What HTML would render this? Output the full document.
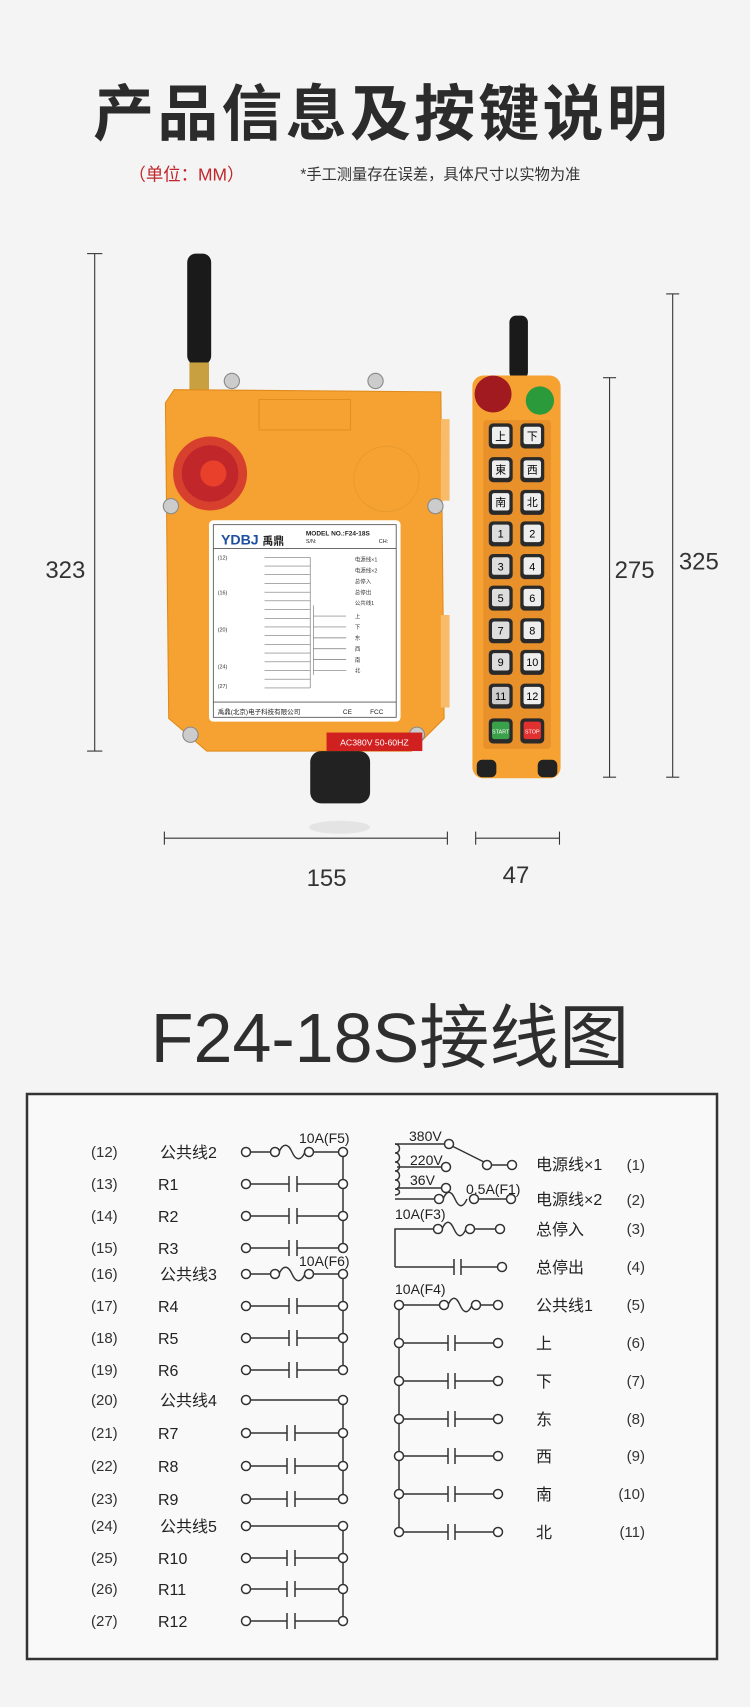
<!DOCTYPE html>
<html><head><meta charset="utf-8"><style>
html,body{margin:0;padding:0;background:#f4f4f4;}
svg{display:block}
text{font-family:"Liberation Sans","Noto Sans CJK SC",sans-serif;}
</style></head><body>
<svg width="750" height="1707" viewBox="0 0 750 1707" xmlns="http://www.w3.org/2000/svg">
<rect width="750" height="1707" fill="#f4f4f4"/>
<g transform="scale(1.0885)">
<text x="351" y="124" text-anchor="middle" font-size="56" font-weight="bold" fill="#2b2b2b" letter-spacing="3">产品信息及按键说明</text>
<text x="118" y="166" font-size="16" fill="#c0262a">（单位：MM）</text>
<text x="276" y="165" font-size="14" fill="#333">*手工测量存在误差，具体尺寸以实物为准</text>

<!-- big remote -->
<rect x="172" y="233" width="22" height="102" rx="8" fill="#1a1a1a"/>
<rect x="174" y="333" width="18" height="27" fill="#c9a040"/>
<polygon points="160,358 405,360 408,660 378,690 190,690 155,660 152,370" fill="#f6a232" stroke="#e08a1a"/>
<rect x="405" y="385" width="8" height="75" fill="#f7bb6a"/>
<rect x="405" y="565" width="8" height="85" fill="#f7bb6a"/>
<rect x="238" y="367" width="84" height="28" fill="none" stroke="#e58e20"/>
<circle cx="355" cy="440" r="30" fill="none" stroke="#e89a30"/>
<circle cx="193" cy="435" r="34" fill="#d8402e"/>
<circle cx="193" cy="435" r="26" fill="#c0262a"/>
<circle cx="196" cy="435" r="12" fill="#e8402a"/>
<g fill="#ccc" stroke="#888"><circle cx="213" cy="350" r="7"/><circle cx="345" cy="350" r="7"/><circle cx="157" cy="465" r="7"/><circle cx="400" cy="465" r="7"/><circle cx="175" cy="675" r="7"/><circle cx="383" cy="675" r="7"/></g>
<rect x="192" y="478" width="176" height="185" rx="4" fill="#fff"/>
<rect x="196" y="482" width="168" height="177" fill="none" stroke="#555" stroke-width="0.8"/>
<line x1="196" y1="504" x2="364" y2="504" stroke="#555" stroke-width="0.8"/>
<line x1="196" y1="645" x2="364" y2="645" stroke="#555" stroke-width="0.8"/>
<text x="203" y="500" font-size="13" font-weight="bold" fill="#1f4fa0">YDBJ</text>
<text x="241" y="500" font-size="10" font-weight="bold" fill="#222">禹鼎</text>
<text x="281" y="492" font-size="6" font-weight="bold" fill="#222">MODEL NO.:F24-18S</text>
<text x="281" y="499" font-size="5" fill="#222">S/N:</text><text x="348" y="499" font-size="5" fill="#222">CH:</text>
<g stroke="#777" stroke-width="0.6">
<line x1="243" y1="512" x2="285" y2="512"/><line x1="243" y1="520" x2="285" y2="520"/><line x1="243" y1="528" x2="285" y2="528"/><line x1="243" y1="536" x2="285" y2="536"/><line x1="243" y1="544" x2="285" y2="544"/><line x1="243" y1="552" x2="285" y2="552"/><line x1="243" y1="560" x2="285" y2="560"/><line x1="243" y1="568" x2="285" y2="568"/><line x1="243" y1="576" x2="285" y2="576"/><line x1="243" y1="584" x2="285" y2="584"/><line x1="243" y1="592" x2="285" y2="592"/><line x1="243" y1="600" x2="285" y2="600"/><line x1="243" y1="608" x2="285" y2="608"/><line x1="243" y1="616" x2="285" y2="616"/><line x1="243" y1="624" x2="285" y2="624"/><line x1="243" y1="632" x2="285" y2="632"/>
<line x1="285" y1="512" x2="285" y2="632"/><line x1="288" y1="556" x2="288" y2="620"/>
<line x1="288" y1="566" x2="318" y2="566"/><line x1="288" y1="576" x2="318" y2="576"/><line x1="288" y1="586" x2="318" y2="586"/><line x1="288" y1="596" x2="318" y2="596"/><line x1="288" y1="606" x2="318" y2="606"/><line x1="288" y1="616" x2="318" y2="616"/>
</g>
<g font-size="5" fill="#333"><text x="200" y="514">(12)</text><text x="200" y="546">(16)</text><text x="200" y="580">(20)</text><text x="200" y="614">(24)</text><text x="200" y="632">(27)</text>
<text x="326" y="516">电源线×1</text><text x="326" y="526">电源线×2</text><text x="326" y="536">总停入</text><text x="326" y="546">总停出</text><text x="326" y="556">公共线1</text><text x="326" y="568">上</text><text x="326" y="578">下</text><text x="326" y="588">东</text><text x="326" y="598">西</text><text x="326" y="608">南</text><text x="326" y="618">北</text></g>
<text x="200" y="656" font-size="6" fill="#222">禹鼎(北京)电子科技有限公司</text>
<text x="315" y="656" font-size="6" fill="#222">CE</text><text x="340" y="656" font-size="6" fill="#222">FCC</text>
<rect x="300" y="673" width="88" height="17" fill="#d02020"/>
<text x="344" y="685" text-anchor="middle" font-size="8" fill="#fff">AC380V 50-60HZ</text>
<rect x="285" y="690" width="55" height="48" rx="10" fill="#222"/>
<ellipse cx="312" cy="760" rx="28" ry="6" fill="#e4e4e4"/>

<!-- small remote -->
<rect x="468" y="290" width="17" height="58" rx="6" fill="#1a1a1a"/>
<rect x="434" y="345" width="81" height="370" rx="10" fill="#f6a232"/>
<circle cx="453" cy="362" r="17" fill="#a01a20"/>
<circle cx="496" cy="368" r="13" fill="#2a9a3a"/>
<rect x="444" y="386" width="62" height="302" rx="3" fill="#e8902a"/>
<g font-size="10" text-anchor="middle">
<rect x="449" y="389" width="22" height="23" rx="4" fill="#2a2a2a"/><rect x="452" y="392" width="16" height="16" rx="2" fill="#eee"/><text x="460" y="404">上</text>
<rect x="478" y="389" width="22" height="23" rx="4" fill="#2a2a2a"/><rect x="481" y="392" width="16" height="16" rx="2" fill="#eee"/><text x="489" y="404">下</text>
<rect x="449" y="420" width="22" height="23" rx="4" fill="#2a2a2a"/><rect x="452" y="423" width="16" height="16" rx="2" fill="#eee"/><text x="460" y="435">東</text>
<rect x="478" y="420" width="22" height="23" rx="4" fill="#2a2a2a"/><rect x="481" y="423" width="16" height="16" rx="2" fill="#eee"/><text x="489" y="435">西</text>
<rect x="449" y="450" width="22" height="23" rx="4" fill="#2a2a2a"/><rect x="452" y="453" width="16" height="16" rx="2" fill="#eee"/><text x="460" y="465">南</text>
<rect x="478" y="450" width="22" height="23" rx="4" fill="#2a2a2a"/><rect x="481" y="453" width="16" height="16" rx="2" fill="#eee"/><text x="489" y="465">北</text>
<rect x="449" y="479" width="22" height="23" rx="4" fill="#2a2a2a"/><rect x="452" y="482" width="16" height="16" rx="2" fill="#ddd"/><text x="460" y="494">1</text>
<rect x="478" y="479" width="22" height="23" rx="4" fill="#2a2a2a"/><rect x="481" y="482" width="16" height="16" rx="2" fill="#eee"/><text x="489" y="494">2</text>
<rect x="449" y="509" width="22" height="23" rx="4" fill="#2a2a2a"/><rect x="452" y="512" width="16" height="16" rx="2" fill="#ddd"/><text x="460" y="524">3</text>
<rect x="478" y="509" width="22" height="23" rx="4" fill="#2a2a2a"/><rect x="481" y="512" width="16" height="16" rx="2" fill="#eee"/><text x="489" y="524">4</text>
<rect x="449" y="538" width="22" height="23" rx="4" fill="#2a2a2a"/><rect x="452" y="541" width="16" height="16" rx="2" fill="#ddd"/><text x="460" y="553">5</text>
<rect x="478" y="538" width="22" height="23" rx="4" fill="#2a2a2a"/><rect x="481" y="541" width="16" height="16" rx="2" fill="#eee"/><text x="489" y="553">6</text>
<rect x="449" y="568" width="22" height="23" rx="4" fill="#2a2a2a"/><rect x="452" y="571" width="16" height="16" rx="2" fill="#ddd"/><text x="460" y="583">7</text>
<rect x="478" y="568" width="22" height="23" rx="4" fill="#2a2a2a"/><rect x="481" y="571" width="16" height="16" rx="2" fill="#eee"/><text x="489" y="583">8</text>
<rect x="449" y="597" width="22" height="23" rx="4" fill="#2a2a2a"/><rect x="452" y="600" width="16" height="16" rx="2" fill="#ddd"/><text x="460" y="612">9</text>
<rect x="478" y="597" width="22" height="23" rx="4" fill="#2a2a2a"/><rect x="481" y="600" width="16" height="16" rx="2" fill="#eee"/><text x="489" y="612">10</text>
<rect x="449" y="628" width="22" height="23" rx="4" fill="#2a2a2a"/><rect x="452" y="631" width="16" height="16" rx="2" fill="#ccc"/><text x="460" y="643">11</text>
<rect x="478" y="628" width="22" height="23" rx="4" fill="#2a2a2a"/><rect x="481" y="631" width="16" height="16" rx="2" fill="#eee"/><text x="489" y="643">12</text>
<rect x="449" y="660" width="22" height="23" rx="4" fill="#2a2a2a"/><rect x="452" y="663" width="16" height="16" rx="2" fill="#3aa04a"/><text x="460" y="674" font-size="5" fill="#fff">START</text>
<rect x="478" y="660" width="22" height="23" rx="4" fill="#2a2a2a"/><rect x="481" y="663" width="16" height="16" rx="2" fill="#e03030"/><text x="489" y="674" font-size="5" fill="#fff">STOP</text>
</g>
<rect x="438" y="698" width="18" height="16" rx="5" fill="#222"/><rect x="494" y="698" width="18" height="16" rx="5" fill="#222"/>

<!-- dimensions -->
<g stroke="#333" stroke-width="1">
<line x1="87" y1="233" x2="87" y2="690"/><line x1="80" y1="233" x2="94" y2="233"/><line x1="80" y1="690" x2="94" y2="690"/>
<line x1="151" y1="770" x2="411" y2="770"/><line x1="151" y1="764" x2="151" y2="776"/><line x1="411" y1="764" x2="411" y2="776"/>
<line x1="437" y1="770" x2="514" y2="770"/><line x1="437" y1="764" x2="437" y2="776"/><line x1="514" y1="764" x2="514" y2="776"/>
<line x1="560" y1="347" x2="560" y2="714"/><line x1="554" y1="347" x2="566" y2="347"/><line x1="554" y1="714" x2="566" y2="714"/>
<line x1="618" y1="270" x2="618" y2="714"/><line x1="612" y1="270" x2="624" y2="270"/><line x1="612" y1="714" x2="624" y2="714"/>
</g>
<g font-size="22" fill="#333" text-anchor="middle">
<text x="60" y="531">323</text><text x="300" y="814">155</text><text x="474" y="811">47</text><text x="583" y="531">275</text><text x="642" y="523">325</text>
</g>
</g>

<!-- diagram section -->
<text x="390" y="1062" text-anchor="middle" font-size="70" fill="#2e2e2e">F24-18S接线图</text>
<rect x="27" y="1094" width="690" height="565" fill="#f9f9f9" stroke="#333" stroke-width="2.5"/>

<g stroke="#333" stroke-width="1.5" fill="none">
<line x1="343" y1="1152" x2="343" y2="1248"/><line x1="343" y1="1274" x2="343" y2="1370"/><line x1="343" y1="1400" x2="343" y2="1499"/><line x1="343" y1="1526" x2="343" y2="1621"/>
<path d="M250 1152H271M279 1152c4 -9 9 -9 13 0s9 9 13 0M313 1152H339"/>
<path d="M250 1274H271M279 1274c4 -9 9 -9 13 0s9 9 13 0M313 1274H339"/>
<path d="M250 1400H339M250 1526H339"/>
<path d="M250 1184H289M289 1176V1192M297 1176V1192M297 1184H339"/>
<path d="M250 1216H289M289 1208V1224M297 1208V1224M297 1216H339"/>
<path d="M250 1248H289M289 1240V1256M297 1240V1256M297 1248H339"/>
<path d="M250 1306H289M289 1298V1314M297 1298V1314M297 1306H339"/>
<path d="M250 1338H289M289 1330V1346M297 1330V1346M297 1338H339"/>
<path d="M250 1370H289M289 1362V1378M297 1362V1378M297 1370H339"/>
<path d="M250 1433H287M287 1425V1441M295 1425V1441M295 1433H339"/>
<path d="M250 1466H287M287 1458V1474M295 1458V1474M295 1466H339"/>
<path d="M250 1499H287M287 1491V1507M295 1491V1507M295 1499H339"/>
<path d="M250 1558H287M287 1550V1566M295 1550V1566M295 1558H339"/>
<path d="M250 1589H287M287 1581V1597M295 1581V1597M295 1589H339"/>
<path d="M250 1621H287M287 1613V1629M295 1613V1629M295 1621H339"/>
<line x1="399" y1="1305" x2="399" y2="1532"/>
<path d="M403 1305H440M448 1305c4 -9 8 -9 12 0s8 9 12 0M480 1305H494"/>
<path d="M403 1343H448M448 1335V1351M455 1335V1351M455 1343H494"/>
<path d="M403 1381H448M448 1373V1389M455 1373V1389M455 1381H494"/>
<path d="M403 1419H448M448 1411V1427M455 1411V1427M455 1419H494"/>
<path d="M403 1456H448M448 1448V1464M455 1448V1464M455 1456H494"/>
<path d="M403 1494H448M448 1486V1502M455 1486V1502M455 1494H494"/>
<path d="M403 1532H448M448 1524V1540M455 1524V1540M455 1532H494"/>
<path d="M395 1267V1229H434M442 1229c4 -9 8 -9 12 0s8 9 12 0M474 1229H496"/>
<path d="M395 1267H454M454 1259V1275M461 1259V1275M461 1267H498"/>
<path d="M395 1144H445M452 1146L484 1162M491 1165H508"/>
<path d="M395 1144v0c6 0 6 9 0 9c6 0 6 9 0 9c6 0 6 9 0 9c6 0 6 9 0 9c6 0 6 9 0 9c6 0 6 6 0 6"/>
<path d="M397 1167H442M397 1188H442M395 1199H435M443 1199c4 -9 8 -9 12 0s8 9 12 0M478 1199H507"/>
</g>
<g stroke="#333" stroke-width="1.5" fill="#fff">
<circle cx="246" cy="1152" r="4.5"/><circle cx="275" cy="1152" r="4.5"/><circle cx="309" cy="1152" r="4.5"/><circle cx="343" cy="1152" r="4.5"/>
<circle cx="246" cy="1274" r="4.5"/><circle cx="275" cy="1274" r="4.5"/><circle cx="309" cy="1274" r="4.5"/><circle cx="343" cy="1274" r="4.5"/>
<circle cx="246" cy="1184" r="4.5"/><circle cx="343" cy="1184" r="4.5"/>
<circle cx="246" cy="1216" r="4.5"/><circle cx="343" cy="1216" r="4.5"/>
<circle cx="246" cy="1248" r="4.5"/><circle cx="343" cy="1248" r="4.5"/>
<circle cx="246" cy="1306" r="4.5"/><circle cx="343" cy="1306" r="4.5"/>
<circle cx="246" cy="1338" r="4.5"/><circle cx="343" cy="1338" r="4.5"/>
<circle cx="246" cy="1370" r="4.5"/><circle cx="343" cy="1370" r="4.5"/>
<circle cx="246" cy="1400" r="4.5"/><circle cx="343" cy="1400" r="4.5"/>
<circle cx="246" cy="1433" r="4.5"/><circle cx="343" cy="1433" r="4.5"/>
<circle cx="246" cy="1466" r="4.5"/><circle cx="343" cy="1466" r="4.5"/>
<circle cx="246" cy="1499" r="4.5"/><circle cx="343" cy="1499" r="4.5"/>
<circle cx="246" cy="1526" r="4.5"/><circle cx="343" cy="1526" r="4.5"/>
<circle cx="246" cy="1558" r="4.5"/><circle cx="343" cy="1558" r="4.5"/>
<circle cx="246" cy="1589" r="4.5"/><circle cx="343" cy="1589" r="4.5"/>
<circle cx="246" cy="1621" r="4.5"/><circle cx="343" cy="1621" r="4.5"/>
<circle cx="399" cy="1305" r="4.5"/><circle cx="444" cy="1305" r="4.5"/><circle cx="476" cy="1305" r="4.5"/><circle cx="498" cy="1305" r="4.5"/>
<circle cx="399" cy="1343" r="4.5"/><circle cx="498" cy="1343" r="4.5"/>
<circle cx="399" cy="1381" r="4.5"/><circle cx="498" cy="1381" r="4.5"/>
<circle cx="399" cy="1419" r="4.5"/><circle cx="498" cy="1419" r="4.5"/>
<circle cx="399" cy="1456" r="4.5"/><circle cx="498" cy="1456" r="4.5"/>
<circle cx="399" cy="1494" r="4.5"/><circle cx="498" cy="1494" r="4.5"/>
<circle cx="399" cy="1532" r="4.5"/><circle cx="498" cy="1532" r="4.5"/>
<circle cx="438" cy="1229" r="4.5"/><circle cx="470" cy="1229" r="4.5"/><circle cx="500" cy="1229" r="4.5"/>
<circle cx="502" cy="1267" r="4.5"/>
<circle cx="449" cy="1144" r="4.5"/><circle cx="487" cy="1165" r="4.5"/><circle cx="512" cy="1165" r="4.5"/>
<circle cx="446" cy="1167" r="4.5"/><circle cx="446" cy="1188" r="4.5"/>
<circle cx="439" cy="1199" r="4.5"/><circle cx="474" cy="1199" r="4.5"/><circle cx="511" cy="1199" r="4.5"/>
</g>
<g font-size="15" fill="#333">
<text x="91" y="1157">(12)</text><text x="91" y="1189">(13)</text><text x="91" y="1221">(14)</text><text x="91" y="1253">(15)</text>
<text x="91" y="1279">(16)</text><text x="91" y="1311">(17)</text><text x="91" y="1343">(18)</text><text x="91" y="1375">(19)</text>
<text x="91" y="1405">(20)</text><text x="91" y="1438">(21)</text><text x="91" y="1471">(22)</text><text x="91" y="1504">(23)</text>
<text x="91" y="1531">(24)</text><text x="91" y="1563">(25)</text><text x="91" y="1594">(26)</text><text x="91" y="1626">(27)</text>
</g>
<g font-size="16" fill="#222">
<text x="160" y="1158">公共线2</text><text x="158" y="1190">R1</text><text x="158" y="1222">R2</text><text x="158" y="1254">R3</text>
<text x="160" y="1280">公共线3</text><text x="158" y="1312">R4</text><text x="158" y="1344">R5</text><text x="158" y="1376">R6</text>
<text x="160" y="1406">公共线4</text><text x="158" y="1439">R7</text><text x="158" y="1472">R8</text><text x="158" y="1505">R9</text>
<text x="160" y="1532">公共线5</text><text x="158" y="1564">R10</text><text x="158" y="1595">R11</text><text x="158" y="1627">R12</text>
<text x="536" y="1170">电源线×1</text><text x="536" y="1205">电源线×2</text><text x="536" y="1235">总停入</text><text x="536" y="1273">总停出</text>
<text x="536" y="1311">公共线1</text><text x="536" y="1349">上</text><text x="536" y="1387">下</text><text x="536" y="1425">东</text><text x="536" y="1462">西</text><text x="536" y="1500">南</text><text x="536" y="1538">北</text>
</g>
<g font-size="15" fill="#333" text-anchor="end">
<text x="645" y="1170">(1)</text><text x="645" y="1205">(2)</text><text x="645" y="1234">(3)</text><text x="645" y="1272">(4)</text><text x="645" y="1310">(5)</text><text x="645" y="1348">(6)</text><text x="645" y="1386">(7)</text><text x="645" y="1424">(8)</text><text x="645" y="1461">(9)</text><text x="645" y="1499">(10)</text><text x="645" y="1537">(11)</text>
</g>
<g font-size="14" fill="#222">
<text x="299" y="1143">10A(F5)</text><text x="299" y="1266">10A(F6)</text>
<text x="409" y="1141">380V</text><text x="410" y="1165">220V</text><text x="410" y="1185">36V</text><text x="466" y="1194">0.5A(F1)</text>
<text x="395" y="1219">10A(F3)</text><text x="395" y="1294">10A(F4)</text>
</g>
</svg>
</body></html>
